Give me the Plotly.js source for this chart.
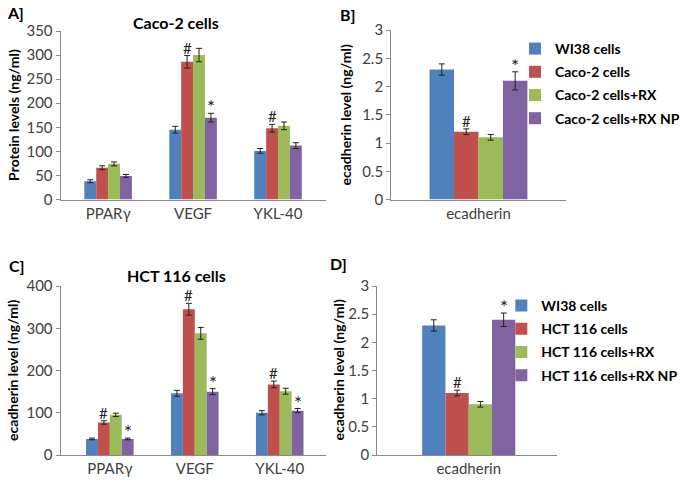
<!DOCTYPE html>
<html>
<head>
<meta charset="utf-8">
<script src="https://cdn.plot.ly/plotly-3.0.1.min.js"></script>
<style>
  html, body { margin: 0; padding: 0; background: #fff; }
  #chart { width: 685px; height: 487px; }
</style>
</head>
<body>
<div id="chart"></div>
<script>
// --- data ---
const proteins = ["PPARγ", "VEGF", "YKL-40"];
const ecad = ["ecadherin"];
const colors = ["#4F81BD", "#C0504D", "#9BBB59", "#8064A2"];

const namesCaco = ["WI38 cells", "Caco-2 cells", "Caco-2 cells+RX", "Caco-2 cells+RX NP"];
const namesHct = ["WI38 cells", "HCT 116 cells", "HCT 116 cells+RX", "HCT 116 cells+RX NP"];

// A] Caco-2 protein levels, one array per series (PPARγ, VEGF, YKL-40)
const cacoVals = [[38, 145, 101], [66, 286, 148], [74, 300, 153], [49, 170, 112]];
const cacoErr = [[3, 7, 5], [4, 13, 8], [4, 14, 8], [3, 9, 6]];
const cacoMarks = [["", "", ""], ["", "#", "#"], ["", "", ""], ["", "*", ""]];

// B] Caco-2 ecadherin
const cacoEcad = [[2.3], [1.2], [1.1], [2.1]];
const cacoEcadErr = [[0.1], [0.05], [0.05], [0.16]];
const cacoEcadMarks = [[""], ["#"], [""], ["*"]];

// C] HCT 116 levels
const hctVals = [[38, 146, 100], [77, 345, 167], [95, 288, 151], [38, 150, 105]];
const hctErr = [[2, 7, 5], [4, 14, 8], [4, 14, 7], [2, 7, 5]];
const hctMarks = [["", "", ""], ["#", "#", "#"], ["", "", ""], ["*", "*", "*"]];

// D] HCT 116 ecadherin
const hctEcad = [[2.3], [1.1], [0.9], [2.4]];
const hctEcadErr = [[0.1], [0.05], [0.05], [0.12]];
const hctEcadMarks = [[""], ["#"], [""], ["*"]];

const W = 685, H = 487;
const px = (v) => v / W;
const py = (v) => 1 - v / H;
const FONT = "Lato, 'Open Sans', sans-serif";
const BARGAP = 0.44;
const barW = (1 - BARGAP) / 4;

const traces = [];
const annotations = [];

function panel(cats, vals, errs, marks, names, ax, legend) {
  vals.forEach((v, i) => {
    traces.push({
      type: "bar",
      x: cats,
      y: v,
      name: names[i],
      xaxis: "x" + ax,
      yaxis: "y" + ax,
      marker: { color: colors[i], line: { width: 0 } },
      error_y: { type: "data", array: errs[i], visible: true, color: "#222", thickness: 1, width: 3 },
      showlegend: !!legend,
      legend: legend || "legend",
      legendgroup: (legend || "") + i,
      hoverinfo: "skip",
    });
    marks[i].forEach((m, j) => {
      if (!m) return;
      annotations.push({
        xref: "x" + ax, yref: "y" + ax,
        x: j + (i - 1.5) * barW,
        y: v[j] + errs[i][j],
        text: m, showarrow: false, yanchor: "bottom", yshift: m === "*" ? -7 : -3,
        font: { family: FONT, size: m === "*" ? 19 : 15, color: "#222" },
      });
    });
  });
}

panel(proteins, cacoVals, cacoErr, cacoMarks, namesCaco, "", null);
panel(ecad, cacoEcad, cacoEcadErr, cacoEcadMarks, namesCaco, "2", "legend");
panel(proteins, hctVals, hctErr, hctMarks, namesHct, "3", null);
panel(ecad, hctEcad, hctEcadErr, hctEcadMarks, namesHct, "4", "legend2");

const axisLine = { showline: true, linecolor: "#8a8a8a", linewidth: 1, showgrid: false, zeroline: false,
  tickfont: { family: FONT, size: 15, color: "#404040" } };
const xCat = (d, r) => Object.assign({}, axisLine, { domain: d, range: r, ticks: "", fixedrange: true });
const yNum = (d, r, dt, anchor) => Object.assign({}, axisLine, {
  domain: d, range: r, dtick: dt, ticks: "outside", ticklen: 4, tickcolor: "#8a8a8a", anchor: anchor });

const text = (x, y, s, size, extra) => Object.assign({
  xref: "paper", yref: "paper", x: px(x), y: py(y), text: s, showarrow: false,
  xanchor: "center", yanchor: "middle",
  font: { family: FONT, size: size, color: "#000", weight: "bold" },
}, extra || {});

annotations.push(
  text(5, 12, "A]", 16, { xanchor: "left" }),
  text(340, 15, "B]", 16, { xanchor: "left" }),
  text(7, 265, "C]", 16, { xanchor: "left" }),
  text(330, 263, "D]", 16, { xanchor: "left" }),
  text(177, 22, "Caco-2 cells", 16),
  text(178, 275, "HCT 116 cells", 16),
  text(13, 115, "Protein levels (ng/ml)", 14, { textangle: -90 }),
  text(348, 115, "ecadherin level (ng/ml)", 14, { textangle: -90 }),
  text(12, 370, "ecadherin level (ng/ml)", 14, { textangle: -90 }),
  text(340, 370, "ecadherin level (ng/ml)", 14, { textangle: -90 })
);

const legendStyle = (x, y) => ({
  x: px(x), y: py(y), xanchor: "left", yanchor: "top", bgcolor: "rgba(0,0,0,0)",
  font: { family: FONT, size: 14, color: "#000", weight: "bold" },
  tracegroupgap: 2, traceorder: "grouped", itemwidth: 30,
});

const layout = {
  width: W, height: H,
  margin: { l: 0, r: 0, t: 0, b: 0 },
  paper_bgcolor: "#fff", plot_bgcolor: "rgba(0,0,0,0)",
  barmode: "group", bargap: BARGAP, bargroupgap: 0,
  showlegend: true,
  xaxis: xCat([px(61), px(328)], [-0.56, 2.56]),
  yaxis: yNum([py(199.5), py(31)], [0, 350], 50, "x"),
  xaxis2: xCat([px(394), px(570)], [-0.5, 0.5]),
  yaxis2: yNum([py(199.5), py(30)], [0, 3], 0.5, "x2"),
  xaxis3: xCat([px(61), px(328)], [-0.58, 2.54]),
  yaxis3: yNum([py(455), py(286)], [0, 400], 100, "x3"),
  xaxis4: xCat([px(380), px(561)], [-0.55, 0.53]),
  yaxis4: yNum([py(455), py(286)], [0, 3], 0.5, "x4"),
  legend: legendStyle(519, 33),
  legend2: legendStyle(505, 290),
  annotations: annotations,
};
layout.xaxis.anchor = "y";
layout.xaxis2.anchor = "y2";
layout.xaxis3.anchor = "y3";
layout.xaxis4.anchor = "y4";

Plotly.newPlot("chart", traces, layout, { displayModeBar: false, staticPlot: true });
</script>
</body>
</html>
